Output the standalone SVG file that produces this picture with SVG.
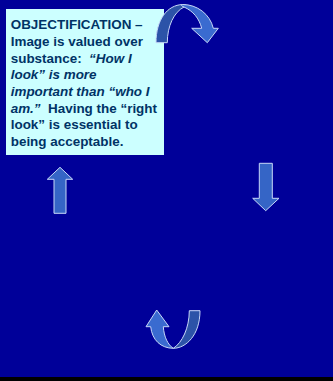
<svg xmlns="http://www.w3.org/2000/svg" width="333" height="381" viewBox="0 0 333 381">
<style>
.bg{fill:#000099}
.box{fill:#CCFFFF}
.t{font-family:"Liberation Sans",Arial,sans-serif;font-size:12px;font-weight:bold;fill:#003366;white-space:pre}
.i{font-style:italic}
.arr{stroke:#C8D8F8;stroke-width:1;stroke-linejoin:round}
.light{fill:#3A6BD0}
.dark{fill:#2C53A8}
.mid{fill:#3565C6}
</style>
<rect class="bg" x="0" y="0" width="333" height="381"/>
<rect x="0" y="377" width="333" height="4" fill="#000000"/>
<g id="objectification">
<rect class="box" x="6" y="9" width="158" height="146"/>
<g transform="translate(10.7,0) scale(1.12,1)">
<text class="t" x="0" y="29.5">OBJECTIFICATION –</text>
<text class="t" x="0" y="46.2">Image is valued over</text>
<text class="t" x="0" y="62.8">substance:  <tspan class="i">“How I</tspan></text>
<text class="t i" x="0" y="79.5">look” is more</text>
<text class="t i" x="0" y="96.1">important than “who I</text>
<text class="t" x="0" y="112.8"><tspan class="i">am.”</tspan>  Having the “right</text>
<text class="t" x="0" y="129.4">look” is essential to</text>
<text class="t" x="0" y="146">being acceptable.</text>
</g>
</g>
<g id="connectors">
<g id="arrow-top">
<path class="arr dark" d="M156,42.7 C156,20 167,5 182.7,4.5 C188,4.5 186,6 184,7 C174,12 167.3,26 167.3,42.7 Z"/>
<path class="arr light" d="M182.7,4.5 C197,4.5 210,14 213.3,28.3 L218.3,28.3 L207.3,42.7 L191.7,28.3 L201.7,28.3 C199,18 193,11 184,7 C181,6 181,5 182.7,4.5 Z"/>
</g>
<g id="arrow-right">
<path class="arr mid" d="M259.3,163.3 L272.3,163.3 L272.3,198.3 L279,198.3 L265.7,210.7 L252.7,198.3 L259.3,198.3 Z"/>
</g>
<g id="arrow-bottom">
<path class="arr dark" d="M173.3,348.3 C186,348.3 200,335 200,310.7 L189.3,310.7 C189.3,328 182,343 173.3,348.3 Z"/>
<path class="arr light" d="M146,326.7 L156.7,310 L169,326.7 L163.3,326.7 C164,337 168,345 173.3,348.3 C161,348.3 152,340 150.7,326.7 Z"/>
</g>
<g id="arrow-left">
<path class="arr mid" d="M54,213.3 L54,179.3 L47.3,179.3 L60,167.3 L72.7,179.3 L66,179.3 L66,213.3 Z"/>
</g>
</g>
</svg>
